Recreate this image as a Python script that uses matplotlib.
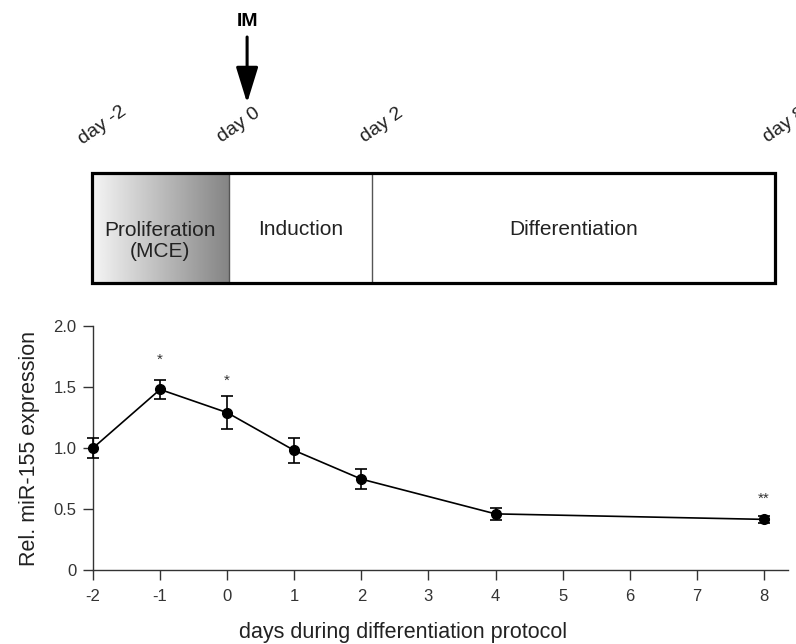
import numpy as np
import matplotlib
matplotlib.use("Agg")
import matplotlib.pyplot as plt
from matplotlib.patches import Rectangle
from matplotlib.transforms import offset_copy

plt.rcParams["font.family"] = ["Liberation Sans", "DejaVu Sans"]
plt.rcParams["axes.unicode_minus"] = False

# measured expression over the protocol
days = [-2, -1, 0, 1, 2, 4, 8]
expression = [1.00, 1.48, 1.29, 0.98, 0.745, 0.46, 0.415]
errors = [0.085, 0.08, 0.135, 0.10, 0.08, 0.05, 0.03]
stars = {-1: "*", 0: "*", 8: "**"}
star_y = {-1: 1.72, 0: 1.55, 8: 0.58}

# timeline schematic
phase_edges = [-2, 0, 2.1, 8]
phase_names = ["Proliferation\n(MCE)", "Induction", "Differentiation"]
timeline_days = [-2, 0, 2, 8]
timeline_pos = [-2, 0, 2.1, 8]

W, H = 796, 644
fig = plt.figure(figsize=(W / 100, H / 100), dpi=100)

# ---- timeline box ----
top = fig.add_axes([92 / W, (H - 283) / H, 683 / W, 110 / H])
top.set_xlim(-2, 8)
top.set_ylim(0, 1)
top.axis("off")

grad = np.linspace(0.96, 0.52, 256).reshape(1, -1)
top.imshow(grad, extent=(phase_edges[0], phase_edges[1], 0, 1), cmap="gray",
           vmin=0, vmax=1, aspect="auto", zorder=1)
for x in phase_edges[1:-1]:
    top.plot([x, x], [0, 1], color="#555555", lw=1.0, zorder=2)
top.add_patch(Rectangle((phase_edges[0], 0), phase_edges[-1] - phase_edges[0], 1,
                        fill=False, lw=2.3, ec="black", zorder=3, clip_on=False))
for i, name in enumerate(phase_names):
    xc = (phase_edges[i] + phase_edges[i + 1]) / 2
    yc = 0.38 if i == 0 else 0.49
    top.text(xc, yc, name, ha="center", va="center", fontsize=15,
             color="#222222", linespacing=1.1)

for d, p in zip(timeline_days, timeline_pos):
    top.annotate(f"day {d}", xy=(p, 1), xytext=(10, 48), textcoords="offset pixels",
                 ha="center", va="center", rotation=35, rotation_mode="anchor",
                 fontsize=14, color="#222222", annotation_clip=False)

# IM arrow pointing at day 0
tip = offset_copy(top.transData, fig=fig, x=18.5, y=70, units="dots")
top.annotate("", xy=(0, 1), xycoords=tip, xytext=(0, 66),
             textcoords="offset pixels", annotation_clip=False,
             arrowprops=dict(arrowstyle="-|>,head_length=1.1,head_width=0.34",
                             color="black", lw=2.2, mutation_scale=20,
                             shrinkA=0, shrinkB=0))
top.annotate("IM", xy=(0, 1), xycoords=tip, xytext=(0, 81),
             textcoords="offset pixels", ha="center", va="center",
             fontsize=14, fontweight="bold", annotation_clip=False)

# ---- expression plot ----
ax = fig.add_axes([93 / W, (H - 570) / H, 695 / W, 244 / H])
ax.errorbar(days, expression, yerr=errors, fmt="-o", color="black", lw=1.2,
            ms=7, elinewidth=1.2, capsize=4.5, capthick=1.2, clip_on=False,
            zorder=3)
for d, s in stars.items():
    ax.text(d, star_y[d], s, ha="center", va="center", fontsize=11,
            color="#333333")

ax.set_xlim(-2, 8.36)
ax.set_ylim(0, 2.0)
ax.set_xticks(range(-2, 9))
ax.set_yticks([0, 0.5, 1.0, 1.5, 2.0])
ax.set_yticklabels(["0", "0.5", "1.0", "1.5", "2.0"])
ax.spines["top"].set_visible(False)
ax.spines["right"].set_visible(False)
for sp in ("left", "bottom"):
    ax.spines[sp].set_color("#333333")
    ax.spines[sp].set_linewidth(1.0)
ax.tick_params(direction="out", length=7, width=1.0, color="#333333",
               labelsize=12, labelcolor="#333333")
ax.tick_params(axis="x", pad=7)
ax.tick_params(axis="y", pad=5)
ax.set_ylabel("Rel. miR-155 expression", fontsize=15.5, color="#222222")
ax.yaxis.set_label_coords(-0.076, 0.5)
ax.set_xlabel("days during differentiation protocol", fontsize=15.5, color="#222222")
ax.xaxis.set_label_coords(0.446, -0.215)

fig.savefig("out.png", dpi=100)
